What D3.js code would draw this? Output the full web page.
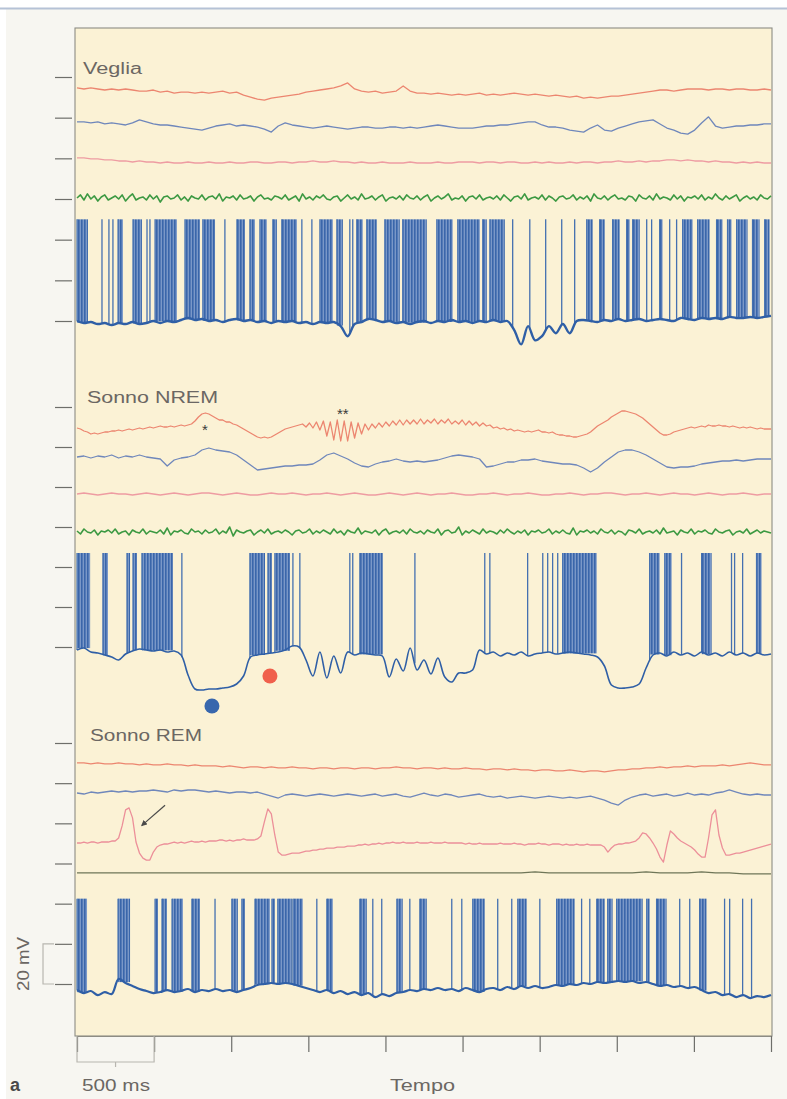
<!DOCTYPE html>
<html>
<head>
<meta charset="utf-8">
<script src="https://cdn.jsdelivr.net/npm/d3@7"></script>
<style>
  body { margin: 0; background: #ffffff; }
  svg { display: block; font-family: "Liberation Sans", Arial, sans-serif; }
</style>
</head>
<body>
<svg width="787" height="1099"></svg>
<script>
// ---- data ----
var duration = 4500; // ms
var timeTicks = [0, 500, 1000, 1500, 2000, 2500, 3000, 3500, 4000, 4500];
var voltTicks = [0, 20, 40, 60, 80, 100, 120];
var panelNames = ["Veglia", "Sonno NREM", "Sonno REM"];

// channel resting levels (mV on panel scale): red, blue, pink, green/emg
var vegliaLevels = [113.6, 97.4, 78.7, 60.5];
var nremLevels = [109.5, 95, 76.5, 57.5];
var remLevels = [108.6, 94.6, 70.2, 55.3];
var spikePeaks = [50, 47, 42.5];

// LFP traces, deviation in a.u. (1 a.u. = 0.5 mV), evenly sampled over the sweep
var vegliaRed = [2,1,2,1,0,1,0,1,0,-1, -1,0,-2,-1,-3,-2,-2,-3,-2,-3,
  -2,-1,-3,-2,-5,-7,-9,-10,-8,-7, -6,-5,-4,-2,-1,0,1,2,4,7,
  1,-1,-2,-1,-3,-2,-1,4,-1,-3, -3,-4,-3,-4,-5,-4,-5,-4,-3,-5,
  -4,-5,-4,-3,-4,-5,-4,-5,-6,-5, -6,-7,-6,-8,-7,-8,-7,-6,-6,-5,
  -4,-3,-2,-1,0,0,-1,0,1,1, 1,0,1,1,0,1,1,0,0,1,0];
var vegliaBlue = [1,1,0,1,-1,0,-1,-2,0,3, 1,-1,-2,-2,-3,-4,-5,-6,-7,-5,
  -3,-2,-1,-3,-2,-3,-4,-6,-9,-3, 0,-2,-3,-4,-5,-4,-3,-4,-5,-6,
  -5,-4,-4,-5,-5,-4,-4,-5,-4,-5, -4,-3,-2,-3,-4,-5,-5,-5,-4,-3,
  -3,-2,-2,-1,0,1,1,-2,-4,-4, -5,-7,-8,-9,-5,-2,-7,-8,-5,-3,
  -1,1,2,3,-1,-5,-7,-10,-11,-7, 0,6,-3,-5,-4,-3,-3,-2,-2,-1,-1];
var vegliaPink = [3,3,2,2,1,1,0,0,-1,0, -1,-1,-2,-1,-2,-2,-1,-2,-2,-1,
  -2,-2,-1,-2,-2,-1,-1,-2,-2,-1, -1,-2,-1,-1,0,-1,-1,0,-1,-1,
  -2,-1,-2,-2,-1,-2,-2,-2,-1,-2, -2,-2,-1,-2,-2,-1,-1,-1,-2,-1,
  -1,-2,-1,-1,-2,-2,-1,-2,-1,-2, -2,-1,-2,-1,-1,-2,-1,-1,0,-1,
  -1,0,-1,0,0,1,1,0,1,0, 0,-1,0,-1,-1,-2,-1,-2,-1,-2,-2];
var vegliaGreen = [0,3,-2,4,-1,2,-3,1,3,-2,0,2,-1,3,-3,1,4,-2,0,1,
  -2,3,-1,2,-4,1,2,-1,0,3,-2,1,-3,2,0,-1,3,-2,1,2,
  -1,4,-3,1,0,2,-2,3,-1,0,2,-3,1,3,-1,0,-2,2,1,-1,
  3,-2,0,2,-3,4,-1,1,-2,2,0,3,-1,-2,1,2,-3,0,3,-1,
  1,-2,4,-1,0,2,-2,1,3,-3,0,1,-1,2,-2,3,0,-1,2,-2,
  1,3,-3,0,2,-1,1,4,-2,0,-1,2,-3,1,2,-1,3,-2,0,1,
  -1,2,-2,3,0,-3,1,2,-1,4,-2,0,1,-1,3,-2,2,0,-3,1,
  2,-1,0,3,-2,1,-1,2,-3,4,0,-1,2,-2,1,3,-1,0,-2,2,
  1,-3,3,0,-1,2,-2,4,-1,1,0,-2,3,-1,2,-3,1,0,2,-1,
  3,-2,1,-1,4,0,-2,2,-1,1,3,-3,0,2,-1,1,-2,3,0,-1,
  2];

var nremRed = [0,-1,-3,-4,-6,-5,-6,-5,-4,-4,-3,-3,-2,-3,-2,-1,-2,-1,0,-1,
  0,1,0,1,2,1,1,2,1,2,3,2,3,4,7,11,14,15,14,12,
  10,8,8,6,6,4,3,1,-1,-3,-5,-7,-9,-10,-9,-10,-9,-7,-5,-3,
  -1,0,1,2,3,4,1,5,0,6,-2,7,-8,6,-12,8,-13,7,-13,6,
  -10,5,-6,4,-2,4,0,5,1,6,2,7,3,8,3,8,4,8,4,9,
  4,8,5,9,4,8,5,9,4,7,4,8,3,7,3,6,2,5,2,3,
  0,1,-1,0,-2,-1,-3,-2,-3,-4,-3,-4,-3,-2,-4,-4,-5,-4,-6,-7,
  -7,-8,-8,-9,-9,-8,-7,-6,-4,-1,2,4,6,8,11,13,15,17,17,16,
  15,14,12,10,7,4,1,-2,-5,-7,-7,-6,-4,-3,-2,-1,0,1,0,1,
  2,1,3,2,2,3,2,2,1,2,1,0,1,0,1,0,-1,0,-1,-1,
  -1];
var nremBlue = [0,1,-1,1,0,2,-1,1,0,2, 0,-1,-2,-9,-3,-1,0,2,7,9,
  7,6,5,2,-3,-8,-13,-12,-11,-10, -9,-9,-8,-8,-7,-3,2,4,1,-2,
  -6,-9,-10,-7,-5,-4,-2,-4,-5,-4, -5,-4,-3,-1,1,2,1,0,-2,-10,
  -9,-7,-5,-5,-3,-3,-2,-4,-5,-6, -7,-7,-8,-11,-15,-11,-5,0,5,7,
  7,5,2,-2,-6,-10,-11,-10,-10,-9, -7,-6,-5,-4,-4,-3,-4,-3,-2,-2,-2];
var nremPink = [0,1,0,-1,0,1,0,0,-1,0, 1,0,-1,0,1,0,-1,0,1,1,
  0,-1,0,1,0,-1,-1,0,1,0, 0,1,0,-1,0,0,1,0,-1,0,
  1,0,-1,-1,0,1,0,-1,0,1, 0,-1,0,0,1,0,-1,-1,0,0,
  1,0,-1,0,0,1,0,-1,-1,0, 0,1,0,-1,0,0,1,1,0,-1,
  0,0,1,0,-1,0,1,0,0,-1, 0,1,0,-1,0,0,1,0,-1,0,0];
var nremGreen = [1,-2,3,0,-1,2,-3,1,0,2,-1,3,-2,0,1,-3,2,0,-1,3,
  -2,1,0,-1,2,-2,4,-3,1,0,2,-1,-2,3,0,1,-2,2,-1,0,
  3,-2,1,-1,5,-4,2,0,-1,1,2,-3,0,2,-1,3,-2,0,1,-1,
  2,0,-3,1,2,-1,0,3,-2,1,-1,2,0,-2,3,-1,1,-3,2,0,
  -1,4,-2,1,0,-1,2,-3,1,3,-2,0,1,-1,2,-2,3,0,-1,1,
  -2,2,0,-1,3,-3,1,2,-1,0,5,-3,1,-1,2,0,-2,3,-1,1,
  0,-2,2,-1,3,0,-2,1,-1,2,-3,1,0,2,-1,0,3,-2,1,-1,
  2,-1,-2,4,-3,1,0,2,-1,1,-2,3,0,-1,2,-2,1,0,-3,2,
  1,-1,3,-2,0,1,-1,2,-2,4,-1,0,1,-3,2,0,-1,3,-2,1,
  0,2,-1,-2,3,0,-1,1,2,-3,0,1,-1,3,-2,0,2,-1,1,0,
  -1];

var remRed = [3,3,2,3,2,2,3,2,2,1, 2,1,1,2,1,1,0,1,0,0,
  0,-1,0,-1,-2,-1,-1,-2,-1,-2, -2,-1,-2,-2,-3,-2,-2,-3,-2,-2,
  -3,-2,-2,-3,-2,-2,-1,-2,-2,-3, -2,-2,-3,-2,-3,-3,-2,-3,-3,-4,
  -3,-3,-4,-3,-4,-4,-5,-4,-4,-5, -5,-4,-5,-6,-5,-5,-6,-5,-4,-4,
  -3,-3,-2,-2,-1,-2,-1,-1,0,-1, 0,0,0,1,0,1,2,3,2,1,1];
var remBlue = [1,0,2,1,2,3,2,3,2,3, 3,4,3,2,4,3,4,4,3,2,
  3,2,1,2,2,1,2,0,-2,-4, -1,0,-1,-2,-1,0,-1,-2,-1,0,
  -1,-2,-1,0,-2,-1,0,-2,-3,-1, 1,-1,-2,0,-1,-3,-2,-1,0,-2,
  -3,-2,-4,-3,-2,-3,-4,-3,-2,-3, -4,-3,-4,-3,-2,-4,-6,-9,-11,-6,
  -3,-1,0,-2,-1,0,-2,-1,1,-1, 0,-1,1,2,4,2,0,-1,0,-1,-1];
var remPink = [0,0,1,0,1,1,0,1,1,1,2,2,5,17,33,35,25,1,-10,-15,
  -17,-17,-9,-4,-2,-1,-1,0,1,0,1,0,1,2,1,1,2,1,2,2,
  2,3,3,2,3,2,3,3,4,3,3,3,4,7,21,34,29,8,-9,-12,
  -12,-11,-10,-10,-10,-9,-8,-8,-7,-7,-6,-6,-5,-5,-5,-4,-4,-4,-3,-3,
  -3,-2,-2,-1,-2,-1,-1,0,-1,0,0,1,0,0,1,0,0,0,1,0,
  0,0,1,0,0,0,1,0,0,0,0,0,-1,0,-1,-1,0,-1,-1,-1,
  -1,-1,0,-1,-1,-1,0,-1,-1,-2,-1,-1,-1,0,-1,-1,-2,-1,-1,-1,
  -2,-1,-2,-2,-1,-2,-2,-1,-2,-2,-2,-2,-4,-9,-5,-2,-1,-1,0,0,
  1,2,5,10,9,5,0,-6,-14,-19,-2,12,9,5,2,0,-2,-4,-7,-11,
  -14,-14,5,28,33,8,-5,-12,-12,-11,-10,-10,-9,-8,-7,-6,-5,-4,-3,-2,
  -1];
var remEmg = [0,0,0,0,0,0,0,0,0,0, 0,0,0,0,0,0,0,0,0,0,
  0,0,0,0,0,0,0,0,0,0, 0,0,0,1,0,0,0,0,0,0,
  0,1,0,0,0,1,0,0,-1,-1,-1];

// intracellular membrane potential (mV, spikes listed separately)
var vegliaVm = [0,-1,-0.5,-1.5,-1,-2,-1,-1.5,-0.5,-1.5, -1,0,-1,0,-0.5,0.5,1.5,0.5,1,0,
  0.5,-0.5,0.5,1,0,0.5,-0.5,0,-1,0, -0.5,0,-1,-0.5,-1.5,-0.5,-1,-0.5,-2.5,-7.5,
  -1.5,-0.5,1,0.5,-0.5,0,-1,-0.5,-1.5,-0.5, 0,-1,0,-0.5,0.5,-0.5,0,-1,0,-0.5,
  0.5,-0.5,0,-4.5,-11.5,-2.5,-9.5,-7.5,-2.5,-6, -1.5,-6,0,0.5,0,-0.5,0.5,0,1,0,
  0.5,1,0,0.5,1,0.5,0,1.5,1,0.5, 1.5,1,1.5,1,2,1.5,1.5,2,1.5,2,2.5];
var nremVm = [-1.5,-0.5,-2.5,-3,-4,-5,-6.5,-3.5,-2,-1, -1.5,-2,-1.5,-2.5,-2,-4,-14,-21,-21.5,-21,
  -21,-20.5,-20,-18.5,-14.5,-5,-4,-3.5,-3,-2.5, -1.5,0.5,0,-6.5,-14.5,-2.5,-15.5,-4.5,-13,-2.5,
  -4,-3,-3.5,-4,-4.5,-15,-6,-12,-0.5,-11.5, -6.5,-13.5,-5.5,-15,-17.5,-13,-13,-11.5,-1.5,-3.5,
  -2.5,-4.5,-3,-4,-2.5,-4.5,-3.5,-3,-2.5,-3.5, -3,-2.5,-3,-3.5,-4,-5,-9.5,-19,-20.5,-20.5,
  -20,-18.5,-10.5,-4,-3,-4.5,-2.5,-4,-3,-4.5, -2.5,-4,-3,-4.5,-2.5,-4,-3,-4.5,-3,-4,-3.5];
var remVm = [-3,-4.5,-3.5,-5.5,-4,-5,2.5,0.5,-1,-2.5, -3.5,-4.5,-4,-3,-4,-3.5,-2.5,-4,-3,-3.5,
  -2.5,-3.5,-3,-4,-3,-2,-0.5,0,0.5,0, 0.5,0,-1,-2,-3,-4,-3,-4.5,-3.5,-5,
  -4,-5.5,-4.5,-6.5,-5,-6,-4.5,-4,-3,-3.5, -2.5,-3,-2,-3,-2.5,-3.5,-2,-3,-4,-2.5,
  -2,-3,-1.5,-2.5,-1,-2,-1,-2,-1.5,-0.5, -1,0,-0.5,0.5,0,1,0.5,1,1.5,1,
  1.5,0.5,1,0,-1,-0.5,-1.5,-1,-2,-1.5, -3,-4.5,-4,-5.5,-5,-6.5,-5.5,-7,-6,-6.5,-5.5];

// action potentials: dense bursts [start, end] and isolated spikes (ms)
var vegliaBursts = [[0,71],[266,298],[363,421],[506,648],[700,797],[816,895],[1037,1089],[1121,1154],
  [1186,1231],[1270,1296],[1328,1426],[1575,1659],[1685,1724],[1814,1853],[1879,1944],[1996,2093],
  [2112,2268],[2333,2436],[2469,2612],[2631,2657],[2677,2774],[3305,3344],[3389,3422],[3473,3519],
  [3564,3584],[3603,3649],[3778,3797],[3927,3992],[4024,4102],[4147,4186],[4218,4244],[4277,4348],
  [4380,4426],[4459,4491]];
var vegliaSpikes = [162,207,233,454,473,959,1458,1523,1769,1788,2825,2936,3039,3143,3227,3694,3726,3843,3888];
var nremBursts = [[0,85],[168,201],[324,344],[363,389],[421,622],[1121,1219],[1238,1264],[1283,1381],
  [1834,1983],[3149,3370],[3713,3778],[3811,3856],[4050,4115],[4406,4439]];
var nremSpikes = [680,1400,1445,1769,1788,2191,2644,2677,2922,3020,3052,3084,3117,3920,4244,4264,4316];
var remBursts = [[0,65],[266,344],[506,525],[551,583],[616,687],[745,797],[1004,1043],[1069,1089],
  [1154,1251],[1264,1283],[1302,1393],[1400,1464],[1620,1659],[1834,1879],[2074,2112],[2223,2268],
  [2566,2644],[2858,2916],[3110,3227],[3370,3422],[3441,3473],[3499,3668],[3694,3713],[3758,3823],
  [4037,4082]];
var remSpikes = [895,1555,1918,1976,2158,2430,2495,2728,2819,3001,3272,3325,3908,3973,4199,4232,4316,4374];

// annotations (time ms, mV on the panel scale)
var nremStars = [{ t: 830, v: 108.5, label: "*" }, { t: 1724, v: 116.5, label: "**" }];
var nremDots = [{ t: 875, v: -29.5, state: "down" }, { t: 1251, v: -14.5, state: "up" }];
var remArrow = [[571, 89], [421, 79]];

// ---- drawing ----
var svg = d3.select("svg");
var frame = { left: 75, right: 772, top: 28, bottom: 1036 };
var panelRanges = [[321, 77], [647, 407], [984, 743]];

var x = d3.scaleLinear().domain([0, duration]).range([77, 771]);
var lfpGain = d3.scaleLinear().domain([0, 1]).range([0, 0.5]);

var colors = {
    red: "#ec8670", blue: "#6f87bb", pink: "#ee9ca2", remPink: "#ec8f99",
    green: "#3c9942", emg: "#6f7658", vm: "#2f5fa6", spike: "#4470b0",
    text: "#6b6763", tick: "#6e6e6a"
};

function valueAt(arr, t) {
    var step = duration / (arr.length - 1);
    var p = t / step, i = Math.min(Math.floor(p), arr.length - 2), f = p - i;
    return arr[i] * (1 - f) + arr[i + 1] * f;
}

function draw_lfp(g, y, values, level, color, width) {
    var step = duration / (values.length - 1);
    var line = d3.line()
        .x(function (d, i) { return x(i * step); })
        .y(function (d) { return y(level + lfpGain(d)); });
    g.append("path")
        .datum(values)
        .attr("fill", "none")
        .attr("stroke", color)
        .attr("stroke-width", width)
        .attr("stroke-linejoin", "round")
        .attr("d", line);
}

function draw_unit(g, y, vm, bursts, spikes, peak, width) {
    g.selectAll(".burst")
        .data(bursts)
        .enter().append("rect")
        .attr("x", function (d) { return x(d[0]); })
        .attr("width", function (d) { return Math.max(1.5, x(d[1]) - x(d[0])); })
        .attr("y", y(peak))
        .attr("height", function (d) { return y(valueAt(vm, (d[0] + d[1]) / 2)) - y(peak); })
        .attr("fill", "url(#burst)");

    g.selectAll(".edge")
        .data(bursts)
        .enter().append("line")
        .attr("x1", function (d) { return x(d[0]); })
        .attr("x2", function (d) { return x(d[0]); })
        .attr("y1", y(peak))
        .attr("y2", function (d) { return y(valueAt(vm, d[0])); })
        .attr("stroke", colors.spike)
        .attr("stroke-width", 1.2);

    g.selectAll(".spike")
        .data(spikes)
        .enter().append("line")
        .attr("x1", function (d) { return x(d); })
        .attr("x2", function (d) { return x(d); })
        .attr("y1", y(peak))
        .attr("y2", function (d) { return y(valueAt(vm, d)); })
        .attr("stroke", colors.spike)
        .attr("stroke-width", 1.3);

    var step = duration / (vm.length - 1);
    var line = d3.line()
        .curve(d3.curveCatmullRom)
        .x(function (d, i) { return x(i * step); })
        .y(function (d) { return y(d); });
    g.append("path")
        .datum(vm)
        .attr("fill", "none")
        .attr("stroke", colors.vm)
        .attr("stroke-width", width)
        .attr("stroke-linejoin", "round")
        .attr("d", line);
}

function add_label(g, text, px, py, len) {
    g.append("text")
        .attr("x", px)
        .attr("y", py)
        .attr("font-size", 16)
        .attr("fill", colors.text)
        .attr("textLength", len)
        .attr("lengthAdjust", "spacingAndGlyphs")
        .text(text);
}

// page + frame
svg.append("rect").attr("width", 787).attr("height", 1099).attr("fill", "#f7f6f1");
svg.append("rect").attr("width", 787).attr("height", 8).attr("fill", "#ffffff");
svg.append("rect").attr("width", 6).attr("height", 1099).attr("fill", "#ffffff");
svg.append("line").attr("x1", 0).attr("x2", 787).attr("y1", 8.5).attr("y2", 8.5)
    .attr("stroke", "#b5c2d6").attr("stroke-width", 2);

var defs = svg.append("defs");
var pat = defs.append("pattern").attr("id", "burst")
    .attr("patternUnits", "userSpaceOnUse").attr("width", 3).attr("height", 4);
pat.append("rect").attr("width", 3).attr("height", 4).attr("fill", "#7a98c8");
pat.append("rect").attr("width", 1.6).attr("height", 4).attr("fill", "#3a66aa");

svg.append("rect")
    .attr("x", frame.left).attr("y", frame.top)
    .attr("width", frame.right - frame.left).attr("height", frame.bottom - frame.top)
    .attr("fill", "#fbf2d5")
    .attr("stroke", "#8d8c84")
    .attr("stroke-width", 1.1);

var ys = panelRanges.map(function (r) {
    return d3.scaleLinear().domain([0, 120]).range(r);
});

// left ticks
ys.forEach(function (y) {
    svg.append("g")
        .attr("transform", "translate(72,0)")
        .call(d3.axisLeft(y).tickValues(voltTicks).tickSize(17).tickFormat(""))
        .call(function (a) { a.select(".domain").remove(); })
        .selectAll("line").attr("stroke", colors.tick).attr("stroke-width", 1.2);
});

// Veglia
var g0 = svg.append("g");
draw_lfp(g0, ys[0], vegliaRed, vegliaLevels[0], colors.red, 1.3);
draw_lfp(g0, ys[0], vegliaBlue, vegliaLevels[1], colors.blue, 1.3);
draw_lfp(g0, ys[0], vegliaPink, vegliaLevels[2], colors.pink, 1.3);
draw_lfp(g0, ys[0], vegliaGreen, vegliaLevels[3], colors.green, 1.6);
draw_unit(g0, ys[0], vegliaVm, vegliaBursts, vegliaSpikes, spikePeaks[0], 2.4);

// NREM
var g1 = svg.append("g");
draw_lfp(g1, ys[1], nremRed, nremLevels[0], colors.red, 1.3);
draw_lfp(g1, ys[1], nremBlue, nremLevels[1], colors.blue, 1.3);
draw_lfp(g1, ys[1], nremPink, nremLevels[2], colors.pink, 1.3);
draw_lfp(g1, ys[1], nremGreen, nremLevels[3], colors.green, 1.6);
draw_unit(g1, ys[1], nremVm, nremBursts, nremSpikes, spikePeaks[1], 1.6);

// REM
var g2 = svg.append("g");
draw_lfp(g2, ys[2], remRed, remLevels[0], colors.red, 1.3);
draw_lfp(g2, ys[2], remBlue, remLevels[1], colors.blue, 1.3);
draw_lfp(g2, ys[2], remPink, remLevels[2], colors.remPink, 1.3);
draw_lfp(g2, ys[2], remEmg, remLevels[3], colors.emg, 1.2);
draw_unit(g2, ys[2], remVm, remBursts, remSpikes, spikePeaks[2], 2.2);

// panel titles
add_label(svg, panelNames[0], 83, 74, 59);
add_label(svg, panelNames[1], 87, 403, 131);
add_label(svg, panelNames[2], 90, 741, 112);

// NREM annotations
g1.selectAll(".star")
    .data(nremStars)
    .enter().append("text")
    .attr("x", function (d) { return x(d.t); })
    .attr("y", function (d) { return ys[1](d.v) + 5; })
    .attr("text-anchor", "middle")
    .attr("font-size", 15)
    .attr("fill", "#3a3a3a")
    .text(function (d) { return d.label; });

g1.selectAll(".dot")
    .data(nremDots)
    .enter().append("circle")
    .attr("cx", function (d) { return x(d.t); })
    .attr("cy", function (d) { return ys[1](d.v); })
    .attr("r", 7.5)
    .attr("fill", function (d) { return d.state == "down" ? "#3867ad" : "#f0604c"; });

// REM arrow
defs.append("marker").attr("id", "head")
    .attr("viewBox", "0 0 10 10").attr("refX", 8).attr("refY", 5)
    .attr("markerWidth", 5).attr("markerHeight", 5).attr("orient", "auto")
    .append("path").attr("d", "M0,0L10,5L0,10z").attr("fill", "#4a4a4a");
g2.append("line")
    .attr("x1", x(remArrow[0][0])).attr("y1", ys[2](remArrow[0][1]))
    .attr("x2", x(remArrow[1][0])).attr("y2", ys[2](remArrow[1][1]))
    .attr("stroke", "#4a4a4a").attr("stroke-width", 1.2)
    .attr("marker-end", "url(#head)");

// time axis
svg.append("g")
    .attr("transform", "translate(0," + frame.bottom + ")")
    .call(d3.axisBottom(x).tickValues(timeTicks).tickSize(16).tickSizeOuter(0).tickFormat(""))
    .call(function (a) {
        a.select(".domain").attr("stroke", "#8d8c84");
        a.selectAll("line").attr("stroke", colors.tick).attr("stroke-width", 1.2);
    });

// 500 ms scale bar
svg.append("path")
    .attr("d", "M" + x(0) + "," + frame.bottom + "V1062H" + x(500) + "V" + frame.bottom +
        "M" + x(250) + ",1062V1067")
    .attr("fill", "none").attr("stroke", "#b8b6b0").attr("stroke-width", 1.2);

// 20 mV scale bar
svg.append("path")
    .attr("d", "M54," + ys[2](20) + "H43V" + ys[2](0) + "H54")
    .attr("fill", "none").attr("stroke", "#b8b6b0").attr("stroke-width", 1.2);
svg.append("text")
    .attr("transform", "translate(29," + ((ys[2](0) + ys[2](20)) / 2) + ") rotate(-90)")
    .attr("text-anchor", "middle")
    .attr("font-size", 16)
    .attr("fill", colors.text)
    .attr("textLength", 54)
    .attr("lengthAdjust", "spacingAndGlyphs")
    .text("20 mV");

add_label(svg, "500 ms", 82, 1091, 68);
add_label(svg, "Tempo", 390, 1091, 65);

svg.append("text")
    .attr("x", 10).attr("y", 1091)
    .attr("font-size", 18).attr("font-weight", "bold")
    .attr("fill", "#4a4a4a")
    .text("a");
</script>
</body>
</html>
